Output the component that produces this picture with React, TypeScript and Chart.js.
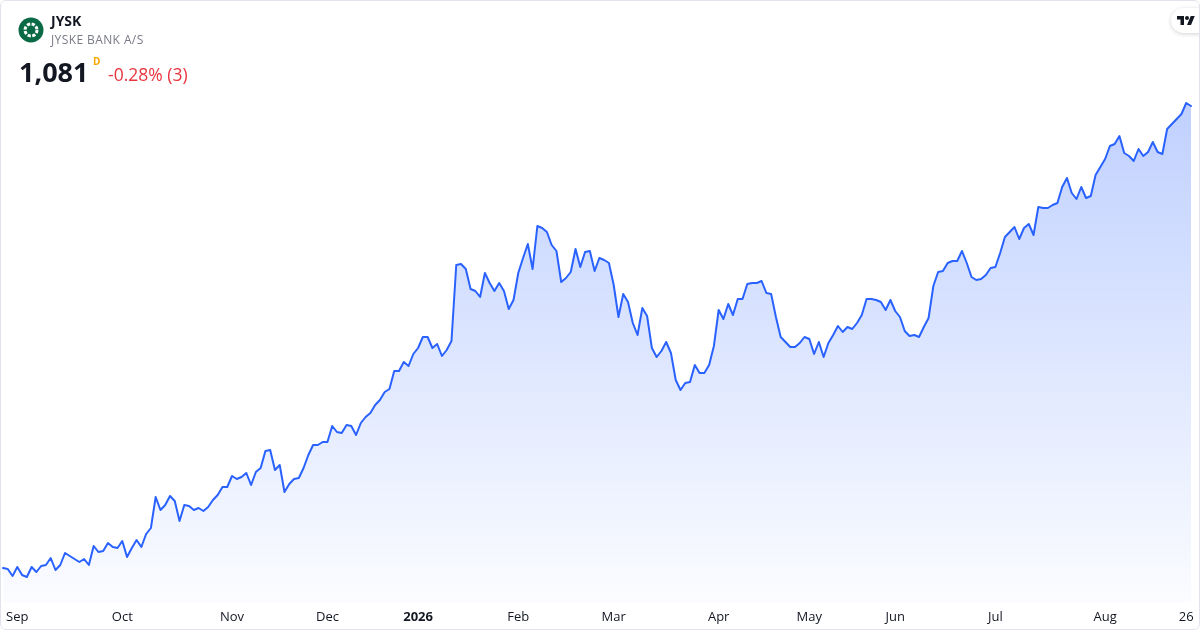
import React, { useEffect, useRef } from 'react';
import { Chart, registerables } from 'chart.js';

Chart.register(...registerables);

// Daily closing prices (DKK), Aug 2025 – Aug 2026, grouped by month
const closeAug2025 = [619, 618, 611];
const closeSep2025 = [620, 612, 610, 620, 615, 621, 622, 629, 617, 622, 634, 631, 628, 625, 628, 622, 641, 635, 636, 644, 640, 639];
const closeOct2025 = [646, 630, 639, 647, 640, 653, 659, 690, 677, 682, 691, 686, 666, 682, 681, 677, 679, 676, 680, 687, 692, 700, 700];
const closeNov2025 = [711, 708, 710, 714, 702, 715, 719, 736, 737, 717, 722, 695, 703, 708, 709, 719, 732, 742, 742, 745];
const closeDec2025 = [745, 761, 755, 754, 762, 761, 752, 764, 770, 774, 782, 787, 795, 798, 816, 816, 825, 821, 833];
const closeJan2026 = [839, 850, 850, 839, 843, 831, 837, 846, 922, 923, 918, 898, 896, 890, 914, 904, 896, 904, 896, 878, 887];
const closeFeb2026 = [914, 929, 943, 918, 961, 959, 955, 942, 936, 905, 909, 915, 938, 920, 935, 936, 916, 929, 927, 924];
const closeMar2026 = [902, 870, 893, 885, 864, 852, 879, 871, 839, 830, 836, 845, 834, 807, 797, 804, 805, 822, 814, 814, 822, 841];
const closeApr2026 = [877, 868, 883, 872, 888, 888, 903, 904, 904, 906, 894, 893, 870, 850, 845, 840, 840, 844, 850];
const closeMay2026 = [848, 833, 845, 830, 844, 852, 861, 855, 860, 858, 864, 872, 888, 888, 887, 885, 877, 887];
const closeJun2026 = [876, 870, 856, 851, 852, 850, 860, 869, 901, 915, 916, 924, 926, 926, 936, 924, 910, 907, 908, 912, 919];
const closeJul2026 = [920, 934, 950, 955, 960, 948, 959, 963, 952, 980, 979, 979, 982, 984, 1000, 1009, 994, 988, 1000, 989, 991, 1012, 1020];
const closeAug2026 = [1028, 1041, 1043, 1051, 1034, 1031, 1026, 1038, 1031, 1035, 1045, 1035, 1033, 1058, 1063, 1068, 1073, 1084, 1081];

const closes: number[] = [
  ...closeAug2025, ...closeSep2025, ...closeOct2025, ...closeNov2025, ...closeDec2025,
  ...closeJan2026, ...closeFeb2026, ...closeMar2026, ...closeApr2026, ...closeMay2026,
  ...closeJun2026, ...closeJul2026, ...closeAug2026,
];

// Time-axis labels and the trading-day index where each appears
const tickLabels = ['Sep', 'Oct', 'Nov', 'Dec', '2026', 'Feb', 'Mar', 'Apr', 'May', 'Jun', 'Jul', 'Aug', '26'];
const tickIndices = [3, 25, 48, 68, 87, 108, 128, 150, 169, 187, 208, 231, 248];

const xLabels = closes.map((_, i) => {
  const k = tickIndices.indexOf(i);
  return k >= 0 ? tickLabels[k] : '';
});

const yMin = 585;
const yMax = 1097;

const FONT = "'Open Sans', 'Noto Sans', sans-serif";

function ChartCanvas() {
  const ref = useRef<HTMLCanvasElement | null>(null);
  useEffect(() => {
    if (!ref.current) return;
    const chart = new Chart(ref.current, {
      type: 'line',
      data: {
        labels: xLabels,
        datasets: [
          {
            data: closes,
            borderColor: '#2962ff',
            borderWidth: 2,
            pointRadius: 0,
            pointHoverRadius: 0,
            tension: 0,
            fill: 'start',
            backgroundColor: (ctx: any) => {
              const { chart } = ctx;
              const area = chart.chartArea;
              if (!area) return 'rgba(41,98,255,0.15)';
              const g = chart.ctx.createLinearGradient(0, area.top, 0, area.bottom);
              g.addColorStop(0, 'rgba(41,98,255,0.30)');
              g.addColorStop(1, 'rgba(41,98,255,0.02)');
              return g;
            },
          },
        ],
      },
      options: {
        animation: false,
        responsive: false,
        layout: { padding: { left: 3, right: 9, top: 90, bottom: -2 } },
        plugins: { legend: { display: false }, tooltip: { enabled: false } },
        elements: { line: { borderJoinStyle: 'round', borderCapStyle: 'round' } },
        scales: {
          x: {
            grid: { display: false, drawTicks: false, tickLength: 0 },
            border: { display: false },
            ticks: {
              autoSkip: false,
              maxRotation: 0,
              minRotation: 0,
              padding: 3,
              color: '#131722',
              font: (ctx: any) => ({
                family: FONT,
                size: 13,
                lineHeight: 24 / 13,
                weight: ctx.tick && ctx.tick.label === '2026' ? 'bold' : 'normal',
              }),
            },
          },
          y: { display: false, min: yMin, max: yMax },
        },
      },
    } as any);
    return () => chart.destroy();
  }, []);
  return (
    <canvas
      ref={ref}
      width={1200}
      height={630}
      style={{ position: 'absolute', left: 0, top: 0, width: 1200, height: 630 }}
    />
  );
}

export default function App() {
  useEffect(() => {
    document.body.style.margin = '0';
  }, []);
  const txt = (extra: React.CSSProperties): React.CSSProperties => ({
    position: 'absolute',
    fontFamily: FONT,
    lineHeight: 1,
    whiteSpace: 'nowrap',
    ...extra,
  });
  return (
    <div
      style={{
        position: 'absolute',
        left: 0,
        top: 0,
        width: 1200,
        height: 630,
        overflow: 'hidden',
        background: '#ffffff',
      }}
    >
      <ChartCanvas />
      {/* Logo */}
      <svg width={26} height={26} viewBox="0 0 26 26" style={{ position: 'absolute', left: 18, top: 17 }}>
        <circle cx={13} cy={13} r={12.5} fill="#0b6a46" />
        <circle cx={13} cy={13} r={6} fill="none" stroke="#ffffff" strokeWidth={3} strokeDasharray="3.2 1.5" />
        <circle cx={13} cy={13} r={2.2} fill="#0b6a46" />
      </svg>
      <span style={txt({ left: 51, top: 13.6, fontSize: 14, fontWeight: 700, color: '#131722' })}>JYSK</span>
      <span style={txt({ left: 51, top: 34.3, fontSize: 12, color: '#787b86', letterSpacing: 0.4 })}>JYSKE BANK A/S</span>
      <span style={txt({ left: 19, top: 58, fontSize: 27, fontWeight: 700, color: '#131722' })}>1,081</span>
      <span style={txt({ left: 93, top: 56.1, fontSize: 10, fontWeight: 700, color: '#f7a600' })}>D</span>
      <span style={txt({ left: 108, top: 65.5, fontSize: 17.5, color: '#e8343f' })}>-0.28% (3)</span>
      {/* TradingView badge */}
      <div
        style={{
          position: 'absolute',
          left: 1171,
          top: 8,
          width: 48,
          height: 25,
          borderRadius: 12.5,
          background: '#ffffff',
          boxShadow: '0 1px 4px rgba(0,0,0,0.18)',
        }}
      >
        <svg width={18} height={11} viewBox="0 0 36 22" preserveAspectRatio="none" style={{ position: 'absolute', left: 6, top: 7 }}>
          <path d="M14 22H7V11H0V4h14v18zM28 22h-8l7.5-18h8L28 22z" fill="#131722" transform="translate(0,-2)" />
          <circle cx={20} cy={6} r={4} fill="#131722" />
        </svg>
      </div>
      {/* Card border */}
      <div
        style={{
          position: 'absolute',
          left: 0,
          top: 0,
          width: 1200,
          height: 630,
          boxSizing: 'border-box',
          border: '1px solid #e0e3eb',
          borderRadius: 6,
          pointerEvents: 'none',
        }}
      />
    </div>
  );
}
